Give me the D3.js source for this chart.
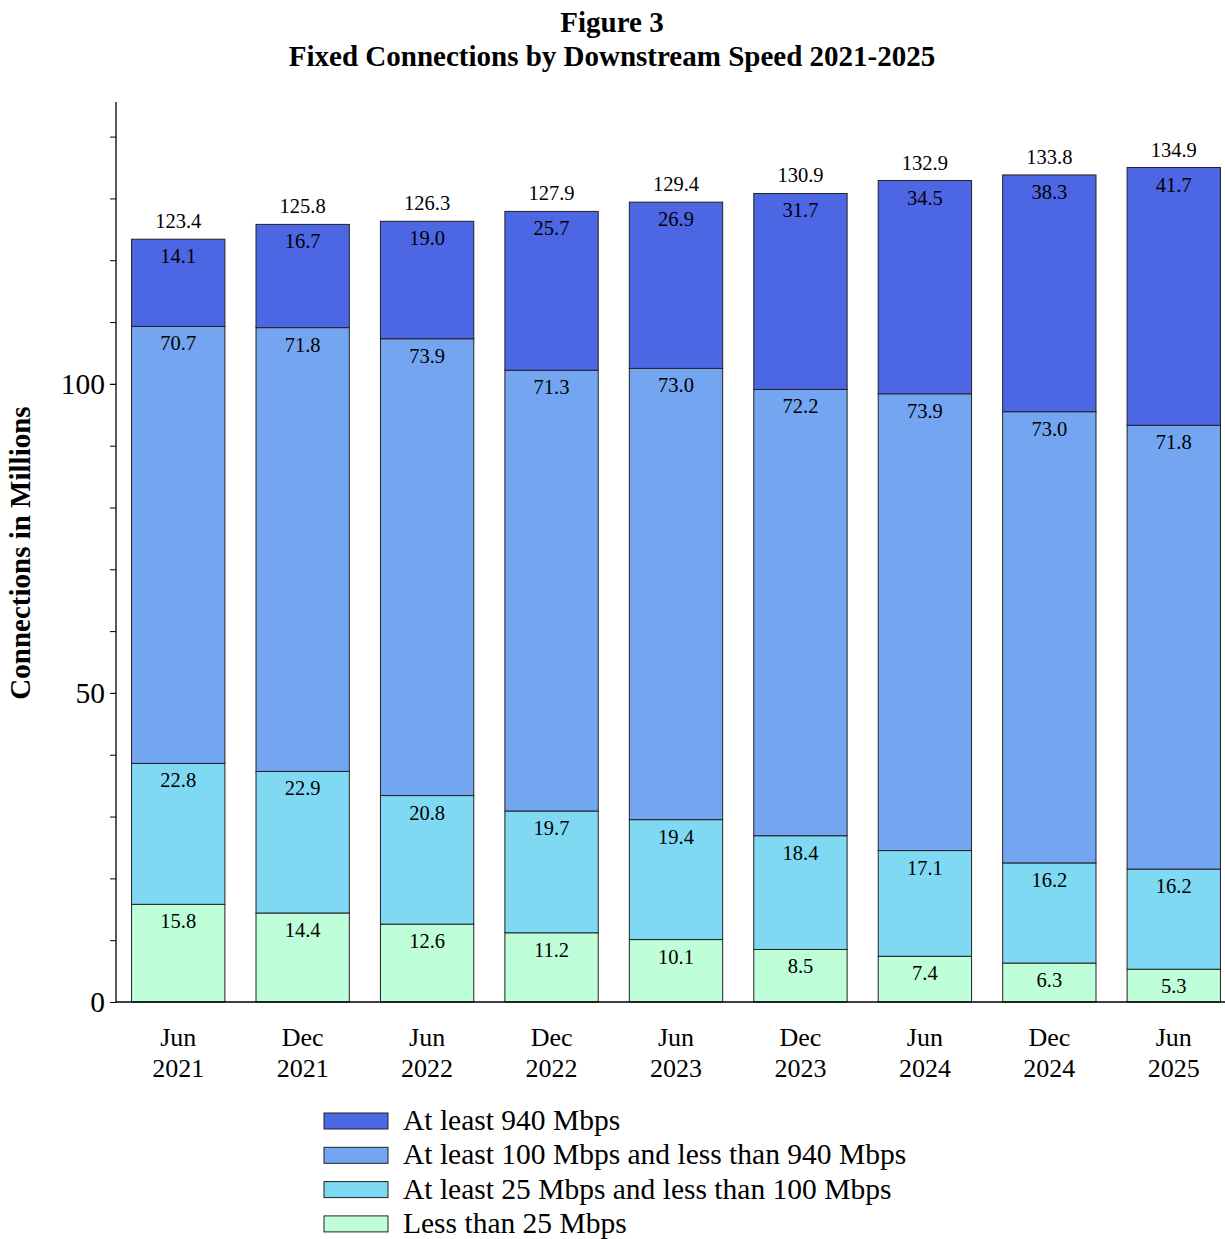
<!DOCTYPE html>
<html>
<head>
<meta charset="utf-8">
<script src="https://cdn.jsdelivr.net/npm/d3@7"></script>
<style>
body{margin:0;background:#fff;}
svg{font-family:"Liberation Serif","Times New Roman",serif;}
</style>
</head>
<body>
<svg id="chart" width="1225" height="1239"></svg>
<script>
var periods=["Jun 2021","Dec 2021","Jun 2022","Dec 2022","Jun 2023","Dec 2023","Jun 2024","Dec 2024","Jun 2025"];
var seriesNames=["Less than 25 Mbps","At least 25 Mbps and less than 100 Mbps","At least 100 Mbps and less than 940 Mbps","At least 940 Mbps"];
var lt25=[15.8,14.4,12.6,11.2,10.1,8.5,7.4,6.3,5.3];
var s25to100=[22.8,22.9,20.8,19.7,19.4,18.4,17.1,16.2,16.2];
var s100to940=[70.7,71.8,73.9,71.3,73.0,72.2,73.9,73.0,71.8];
var s940=[14.1,16.7,19.0,25.7,26.9,31.7,34.5,38.3,41.7];
var totals=[123.4,125.8,126.3,127.9,129.4,130.9,132.9,133.8,134.9];
var colors=["#BEFFDA","#80D9F2","#73A5F0","#4D66E4"];

var svg=d3.select("#chart");

// title
svg.append("text").attr("x",612).attr("y",32).attr("text-anchor","middle")
  .style("font-size","29px").style("font-weight","bold").text("Figure 3");
svg.append("text").attr("x",612).attr("y",66).attr("text-anchor","middle")
  .style("font-size","29px").style("font-weight","bold").text("Fixed Connections by Downstream Speed 2021-2025");

var x=d3.scaleBand().domain(periods).range([116,1236]).paddingInner(0.25).paddingOuter(0.125);
var y=d3.scaleLinear().domain([0,145.6]).range([1002,102]);

var table=periods.map(function(p,i){
  return {period:p,s0:lt25[i],s1:s25to100[i],s2:s100to940[i],s3:s940[i],total:totals[i]};
});
var stack=d3.stack().keys(["s0","s1","s2","s3"]);
var layers=stack(table);

var g=svg.append("g");
layers.forEach(function(layer,k){
  g.selectAll(".seg"+k).data(layer).join("rect")
    .attr("x",function(d){return x(d.data.period);})
    .attr("y",function(d){return y(d[1]);})
    .attr("width",x.bandwidth())
    .attr("height",function(d){return y(d[0])-y(d[1]);})
    .attr("fill",colors[k])
    .attr("stroke","#222")
    .attr("stroke-width",1);
  g.selectAll(".lab"+k).data(layer).join("text")
    .attr("x",function(d){return x(d.data.period)+x.bandwidth()/2;})
    .attr("y",function(d){return y(d[1])+24;})
    .attr("text-anchor","middle")
    .style("font-size","20.5px")
    .text(function(d){return (d[1]-d[0]).toFixed(1);});
});

// totals
g.selectAll(".tot").data(table).join("text")
  .attr("x",function(d){return x(d.period)+x.bandwidth()/2;})
  .attr("y",function(d){return y(d.total)-11;})
  .attr("text-anchor","middle")
  .style("font-size","20.5px")
  .text(function(d){return d.total.toFixed(1);});

// y axis
var yAxisMinor=d3.axisLeft(y).tickValues(d3.range(0,141,10)).tickSize(6).tickFormat("");
var ya=svg.append("g").attr("transform","translate(116,0)").call(yAxisMinor);
ya.select(".domain").attr("d","M0,102V1002").attr("stroke","#000").attr("stroke-width",1.3);
ya.selectAll(".tick line").attr("stroke","#000");
var yAxisMajor=d3.axisLeft(y).tickValues([0,50,100]).tickSize(6).tickPadding(5);
var ym=svg.append("g").attr("transform","translate(116,0)").call(yAxisMajor);
ym.select(".domain").remove();
ym.selectAll(".tick text").style("font-size","29.5px").style("font-family","'Liberation Serif',serif").attr("fill","#000");
ym.selectAll(".tick line").attr("stroke","#000");

// x axis line
svg.append("line").attr("x1",116).attr("x2",1225).attr("y1",1002).attr("y2",1002)
  .attr("stroke","#000").attr("stroke-width",1.3);

// x labels
var xl=svg.append("g").selectAll("text").data(periods).join("text")
  .attr("x",function(d){return x(d)+x.bandwidth()/2;})
  .attr("y",1046)
  .attr("text-anchor","middle")
  .style("font-size","26px");
xl.append("tspan").attr("x",function(d){return x(d)+x.bandwidth()/2;}).text(function(d){return d.split(" ")[0];});
xl.append("tspan").attr("x",function(d){return x(d)+x.bandwidth()/2;}).attr("dy",31).text(function(d){return d.split(" ")[1];});

// y title
svg.append("text").attr("transform","translate(30,553) rotate(-90)")
  .attr("text-anchor","middle").style("font-size","29px").style("font-weight","bold")
  .text("Connections in Millions");

// legend
var legendOrder=[3,2,1,0];
var lg=svg.append("g").selectAll("g").data(legendOrder).join("g")
  .attr("transform",function(d,i){return "translate(324,"+(1113+i*34.3)+")";});
lg.append("rect").attr("width",64).attr("height",16).attr("fill",function(d){return colors[d];})
  .attr("stroke","#222").attr("stroke-width",1);
lg.append("text").attr("x",79).attr("y",17).style("font-size","29.5px")
  .text(function(d){return seriesNames[d];});
</script>
</body>
</html>
